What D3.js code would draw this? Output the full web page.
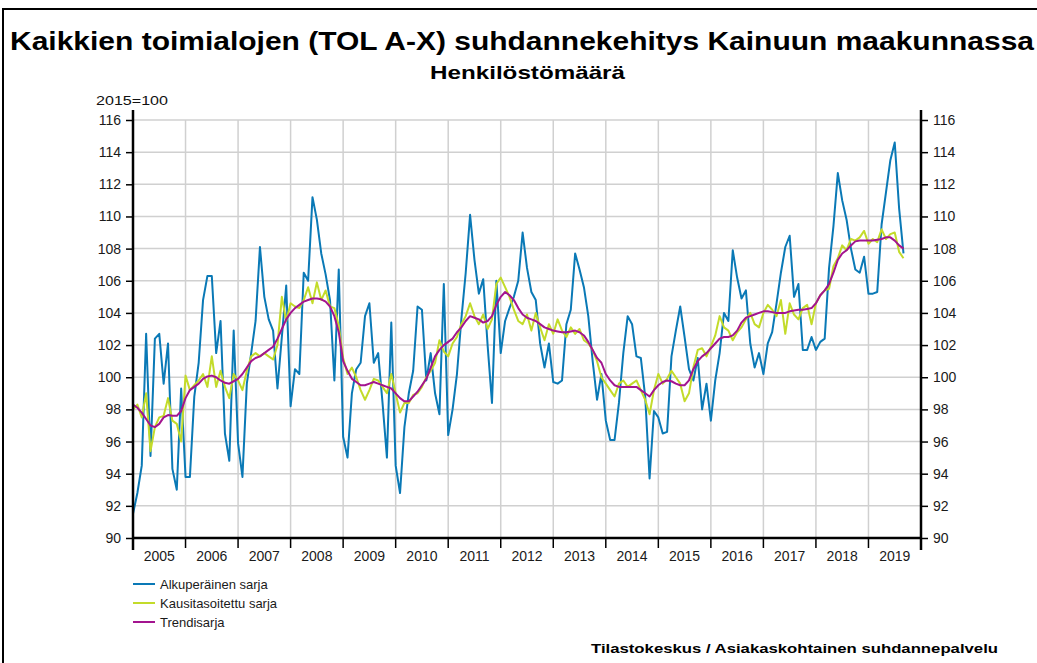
<!DOCTYPE html>
<html>
<head>
<meta charset="utf-8">
<script src="https://cdn.jsdelivr.net/npm/d3@7/dist/d3.min.js"></script>
<style>
  html, body { margin: 0; padding: 0; background: #fff; }
  svg { display: block; font-family: Arial, "Liberation Sans", sans-serif; }
</style>
</head>
<body>
<svg id="chart" width="1037" height="663"></svg>
<script>
// monthly values, Jan 2005 .. Sep 2019 (one row per year)
var alkuperainen = [
  91.5, 92.8, 94.5, 102.7, 95.1, 102.4, 102.7, 99.6, 102.1, 94.3, 93.0, 99.3,
  93.8, 93.8, 98.8, 100.9, 104.8, 106.3, 106.3, 101.5, 103.5, 96.5, 94.8, 102.9,
  95.9, 93.8, 99.6, 101.5, 103.5, 108.1, 105.0, 103.6, 102.9, 99.3, 102.5, 105.7,
  98.2, 100.5, 100.2, 106.5, 106.0, 111.2, 109.8, 107.7, 106.4, 104.8, 99.8, 106.7,
  96.3, 95.0, 99.0, 100.5, 100.9, 103.8, 104.6, 100.9, 101.5, 98.4, 95.0, 103.4,
  94.5, 92.8, 96.9, 99.0, 100.4, 104.4, 104.2, 99.8, 101.5, 99.0, 97.7, 105.8,
  96.4, 98.0, 100.2, 103.6, 106.5, 110.1, 107.3, 105.2, 106.1, 102.0, 98.4, 106.0,
  101.5, 103.5, 104.3, 105.0, 106.0, 109.0, 106.8, 105.3, 104.8, 102.1, 100.6, 102.1,
  99.7, 99.6, 99.8, 103.3, 104.2, 107.7, 106.7, 105.6, 103.8, 101.0, 98.6, 100.2,
  97.3, 96.1, 96.1, 98.4, 101.5, 103.8, 103.3, 101.3, 101.2, 98.8, 93.7, 97.9,
  97.5, 96.5, 96.6, 101.3, 102.9, 104.4, 102.5, 100.5, 99.8, 101.2, 98.0, 99.6,
  97.3, 99.8, 101.5, 104.0, 103.5, 107.9, 106.2, 104.9, 105.4, 102.1, 100.6, 101.5,
  100.2, 102.1, 102.8, 104.6, 106.5, 108.1, 108.8, 105.0, 105.8, 101.7, 101.7, 102.5,
  101.7, 102.2, 102.4, 106.8, 109.4, 112.7, 111.0, 109.8, 108.0, 106.7, 106.5, 107.5,
  105.2, 105.2, 105.3, 109.5, 111.5, 113.5, 114.6, 110.5, 107.7
];
var kausitasoitettu = [
  98.0, 98.3, 97.5, 99.0, 95.4, 96.9, 97.5, 97.6, 98.7, 97.3, 97.1, 96.0,
  100.1, 99.2, 99.5, 99.8, 100.2, 99.4, 101.3, 99.4, 100.4, 99.4, 98.7, 100.2,
  99.8, 99.2, 100.4, 101.3, 101.5, 101.3, 101.5, 101.3, 101.1, 102.0, 105.0, 103.5,
  104.6, 104.4, 104.3, 104.8, 105.6, 104.6, 105.9, 104.8, 105.4, 104.4, 104.3, 103.2,
  101.2, 100.2, 100.6, 100.0, 99.2, 98.6, 99.2, 99.9, 99.8, 99.4, 99.0, 100.2,
  99.0, 97.8, 98.4, 98.4, 98.9, 99.0, 99.4, 100.0, 100.4, 100.9, 102.3, 101.6,
  101.3, 102.1, 102.5, 103.3, 103.8, 104.6, 103.8, 103.3, 103.9, 103.0, 103.6, 105.8,
  106.2, 105.6, 105.0, 104.2, 103.5, 103.3, 103.9, 102.9, 104.0, 103.1, 102.3, 103.3,
  102.7, 103.6, 102.9, 102.5, 103.1, 102.7, 103.0, 102.3, 102.1, 101.7, 101.0, 100.0,
  99.6, 99.2, 98.8, 99.6, 99.8, 99.4, 99.6, 99.8, 99.2, 98.6, 97.7, 99.2,
  100.2, 99.6, 99.9, 100.4, 100.0, 99.6, 98.5, 99.0, 100.6, 101.7, 101.8, 101.3,
  101.9, 102.6, 103.8, 103.1, 102.9, 102.3, 102.8, 103.1, 103.6, 104.0, 103.3, 103.1,
  104.0, 104.5, 104.2, 103.8, 104.8, 102.7, 104.6, 103.9, 103.6, 104.3, 104.5, 103.3,
  104.6, 105.1, 105.4, 105.5, 106.9, 107.4, 108.2, 107.9, 108.6, 108.5, 108.7, 109.1,
  108.3, 108.6, 108.4, 109.2, 108.6, 108.9, 109.0, 107.8, 107.4
];
var trendi = [
  98.3, 98.1, 97.8, 97.4, 97.0, 96.9, 97.1, 97.5, 97.65, 97.6, 97.6, 97.9,
  98.7, 99.2, 99.4, 99.6, 99.9, 100.05, 100.1, 100.0, 99.8, 99.65, 99.6, 99.75,
  99.9, 100.2, 100.6, 101.0, 101.2, 101.3, 101.5, 101.7, 101.9, 102.4, 103.0, 103.6,
  104.0, 104.3, 104.5, 104.7, 104.8, 104.9, 104.9, 104.85, 104.7, 104.4, 103.8, 102.8,
  101.0, 100.4, 99.9, 99.7, 99.5, 99.5, 99.6, 99.7, 99.6, 99.5, 99.4, 99.3,
  99.0, 98.7, 98.5, 98.5, 98.8, 99.1, 99.5, 99.9, 100.6, 101.3, 101.7, 102.0,
  102.2, 102.4, 102.8, 103.1, 103.5, 103.8, 103.7, 103.6, 103.4, 103.5, 103.8, 104.5,
  105.0, 105.3, 105.1, 104.8, 104.3, 103.9, 103.7, 103.6, 103.5, 103.3, 103.1, 103.0,
  102.9, 102.85, 102.8, 102.8, 102.85, 102.9, 102.8, 102.6, 102.2, 101.7, 101.2, 100.9,
  100.2, 99.8, 99.5, 99.4, 99.4, 99.4, 99.4, 99.4, 99.2, 99.0, 98.8, 99.2,
  99.5, 99.7, 99.8, 99.75, 99.6, 99.5, 99.5, 99.8, 100.5, 101.0, 101.3, 101.5,
  101.8, 102.1, 102.4, 102.5, 102.5, 102.6, 102.9, 103.4, 103.7, 103.8, 103.9, 104.0,
  104.1, 104.1, 104.05, 104.0, 104.0, 104.0, 104.1, 104.15, 104.2, 104.2, 104.25, 104.3,
  104.6, 105.1, 105.4, 105.8, 106.5, 107.3, 107.7, 107.9, 108.2, 108.45, 108.5, 108.5,
  108.5, 108.5, 108.55, 108.6, 108.7, 108.7, 108.5, 108.2, 108.0
];

var vuodet = ['2005', '2006', '2007', '2008', '2009', '2010', '2011', '2012',
  '2013', '2014', '2015', '2016', '2017', '2018', '2019'];
var yTicks = [90, 92, 94, 96, 98, 100, 102, 104, 106, 108, 110, 112, 114, 116];

var sarjat = [
  {name: 'Alkuperäinen sarja', values: alkuperainen, color: '#0a79b6'},
  {name: 'Kausitasoitettu sarja', values: kausitasoitettu, color: '#c3db2a'},
  {name: 'Trendisarja', values: trendi, color: '#a3148f'}
];

var svg = d3.select('#chart');
var plotLeft = 133, plotRight = 921, plotTop = 120, plotBottom = 538;

var x = d3.scaleLinear().domain([0, vuodet.length * 12]).range([plotLeft, plotRight]);
var y = d3.scaleLinear().domain([90, 116]).range([plotBottom, plotTop]);

// frame
svg.append('path')
  .attr('d', 'M3,663 V9 H1037')
  .attr('fill', 'none')
  .attr('stroke', '#000')
  .attr('stroke-width', 2);

// titles
svg.append('text')
  .attr('x', 10).attr('y', 50)
  .attr('font-size', 25).attr('font-weight', 'bold')
  .attr('textLength', 1024).attr('lengthAdjust', 'spacingAndGlyphs')
  .text('Kaikkien toimialojen (TOL A-X) suhdannekehitys Kainuun maakunnassa');
svg.append('text')
  .attr('x', 430).attr('y', 79)
  .attr('font-size', 19).attr('font-weight', 'bold')
  .attr('textLength', 195).attr('lengthAdjust', 'spacingAndGlyphs')
  .text('Henkilöstömäärä');
svg.append('text')
  .attr('x', 96).attr('y', 105)
  .attr('font-size', 13).attr('fill', '#111')
  .attr('textLength', 72).attr('lengthAdjust', 'spacingAndGlyphs')
  .text('2015=100');

// grid
var grid = svg.append('g').attr('stroke', '#d0d0d0').attr('stroke-width', 1.5);
grid.selectAll('line.h')
  .data(yTicks.slice(1))
  .enter().append('line')
  .attr('class', 'h')
  .attr('x1', plotLeft).attr('x2', plotRight)
  .attr('y1', function(d) { return y(d); })
  .attr('y2', function(d) { return y(d); });
grid.selectAll('line.v')
  .data(d3.range(1, vuodet.length))
  .enter().append('line')
  .attr('class', 'v')
  .attr('x1', function(d) { return x(d * 12); })
  .attr('x2', function(d) { return x(d * 12); })
  .attr('y1', plotTop).attr('y2', plotBottom);

// axes
var yLeft = d3.axisLeft(y).tickValues(yTicks).tickSize(7).tickPadding(5);
var yRight = d3.axisRight(y).tickValues(yTicks).tickSize(7).tickPadding(5);

function styleAxis(g) {
  g.select('.domain').remove();
  g.selectAll('.tick line').attr('stroke', '#000').attr('stroke-width', 1.5);
  g.selectAll('.tick text').attr('font-size', 14).attr('fill', '#1a1a1a')
    .attr('font-family', 'Arial, "Liberation Sans", sans-serif');
}

svg.append('g').attr('transform', 'translate(' + plotLeft + ',0)').call(yLeft).call(styleAxis);
svg.append('g').attr('transform', 'translate(' + plotRight + ',0)').call(yRight).call(styleAxis);

// series
var line = d3.line()
  .x(function(d, i) { return x(i); })
  .y(function(d) { return y(d); });

svg.append('g').selectAll('path')
  .data(sarjat)
  .enter().append('path')
  .attr('d', function(d) { return line(d.values); })
  .attr('fill', 'none')
  .attr('stroke', function(d) { return d.color; })
  .attr('stroke-width', 2)
  .attr('stroke-linejoin', 'round');

// axis lines
svg.append('line').attr('x1', plotLeft).attr('x2', plotLeft).attr('y1', 110).attr('y2', 550)
  .attr('stroke', '#000').attr('stroke-width', 2.5);
svg.append('line').attr('x1', plotRight).attr('x2', plotRight).attr('y1', 110).attr('y2', 550)
  .attr('stroke', '#000').attr('stroke-width', 2.5);
svg.append('line').attr('x1', plotLeft).attr('x2', plotRight).attr('y1', plotBottom).attr('y2', plotBottom)
  .attr('stroke', '#000').attr('stroke-width', 2.5);

// year ticks and labels
svg.append('g').selectAll('line')
  .data(d3.range(1, vuodet.length))
  .enter().append('line')
  .attr('x1', function(d) { return x(d * 12); })
  .attr('x2', function(d) { return x(d * 12); })
  .attr('y1', plotBottom).attr('y2', plotBottom + 10)
  .attr('stroke', '#000').attr('stroke-width', 1.5);
svg.append('g').selectAll('text')
  .data(vuodet)
  .enter().append('text')
  .attr('x', function(d, i) { return x(i * 12 + 6); })
  .attr('y', 561)
  .attr('text-anchor', 'middle')
  .attr('font-size', 14).attr('fill', '#1a1a1a')
  .text(function(d) { return d; });

// legend
var legend = svg.append('g').selectAll('g')
  .data(sarjat)
  .enter().append('g')
  .attr('transform', function(d, i) { return 'translate(133,' + (584 + i * 19) + ')'; });
legend.append('line')
  .attr('x1', 0).attr('x2', 22)
  .attr('stroke', function(d) { return d.color; })
  .attr('stroke-width', 2);
legend.append('text')
  .attr('x', 27).attr('y', 5)
  .attr('font-size', 13).attr('fill', '#1a1a1a')
  .text(function(d) { return d.name; });

svg.append('text')
  .attr('x', 591).attr('y', 653)
  .attr('font-size', 13).attr('font-weight', 'bold')
  .attr('textLength', 407).attr('lengthAdjust', 'spacingAndGlyphs')
  .text('Tilastokeskus / Asiakaskohtainen suhdannepalvelu');
</script>
</body>
</html>
